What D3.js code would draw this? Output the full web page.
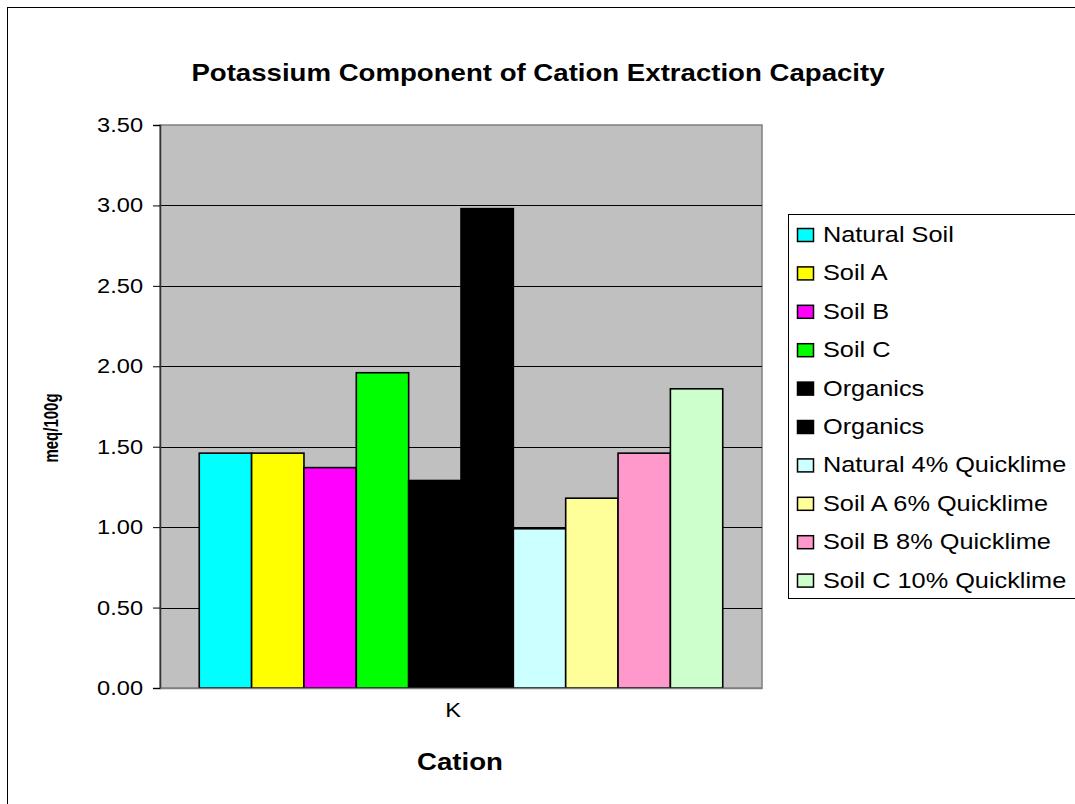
<!DOCTYPE html>
<html>
<head>
<meta charset="utf-8">
<script src="https://cdn.jsdelivr.net/npm/d3@7"></script>
<style>
  body { margin: 0; background: #fff; }
  text { font-family: "Liberation Sans", Arial, sans-serif; fill: #000; }
</style>
</head>
<body>
<div id="chart"></div>
<script>
const width = 1075;
const height = 804;

const categories = ["K"];
const seriesNames = [
  "Natural Soil", "Soil A", "Soil B", "Soil C", "Organics", "Organics",
  "Natural 4% Quicklime", "Soil A 6% Quicklime", "Soil B 8% Quicklime", "Soil C 10% Quicklime"
];
const seriesValues = [1.46, 1.46, 1.37, 1.96, 1.29, 2.98, 0.99, 1.18, 1.46, 1.86];
const seriesColors = [
  "#00FFFF", "#FFFF00", "#FF00FF", "#00FF00", "#000000", "#000000",
  "#CCFFFF", "#FFFF99", "#FF99CC", "#CCFFCC"
];
const yTicks = [0, 0.5, 1, 1.5, 2, 2.5, 3, 3.5];

// text in the picture is a bit wider than the plain font
const stretch = 1.15;

const plot = { left: 160, right: 762, top: 125, bottom: 688 };

const svg = d3.select("#chart").append("svg")
  .attr("width", width)
  .attr("height", height);

// outer chart border (runs off the right and bottom edges)
svg.append("rect")
  .attr("x", 7.5).attr("y", 7.5)
  .attr("width", width + 20).attr("height", height + 20)
  .attr("fill", "#fff").attr("stroke", "#000").attr("stroke-width", 1);

const y = d3.scaleLinear().domain([0, 3.5]).range([plot.bottom, plot.top]);
const x0 = d3.scaleBand().domain(categories).range([plot.left, plot.right]);
const x1 = d3.scaleBand()
  .domain(d3.range(seriesNames.length))
  .range([0, x0.bandwidth()])
  .paddingInner(0)
  .paddingOuter(0.75);

// plot area
svg.append("rect")
  .attr("x", plot.left).attr("y", plot.top)
  .attr("width", plot.right - plot.left).attr("height", plot.bottom - plot.top)
  .attr("fill", "#C0C0C0").attr("stroke", "#808080").attr("stroke-width", 1.5);

// gridlines
svg.append("g")
  .selectAll("line")
  .data(yTicks.filter(d => d > 0 && d < 3.5))
  .join("line")
  .attr("x1", plot.left).attr("x2", plot.right)
  .attr("y1", d => Math.round(y(d)) + 0.5).attr("y2", d => Math.round(y(d)) + 0.5)
  .attr("stroke", "#000").attr("stroke-width", 1);

// bars
const group = svg.append("g")
  .selectAll("g")
  .data(categories)
  .join("g")
  .attr("transform", d => `translate(${x0(d)},0)`);

group.selectAll("rect")
  .data(() => seriesValues.map((v, i) => ({ i, v })))
  .join("rect")
  .attr("x", d => x1(d.i))
  .attr("y", d => y(d.v))
  .attr("width", x1.bandwidth())
  .attr("height", d => y(0) - y(d.v))
  .attr("fill", d => seriesColors[d.i])
  .attr("stroke", "#000")
  .attr("stroke-width", 1.6);

// y axis
const yAxis = svg.append("g")
  .attr("transform", `translate(${plot.left},0)`)
  .call(d3.axisLeft(y).tickValues(yTicks).tickFormat(d3.format(".2f")).tickSize(7).tickPadding(10));
yAxis.select(".domain").attr("stroke", "#333").attr("stroke-width", 1.5);
yAxis.selectAll(".tick line").attr("stroke", "#000");
yAxis.selectAll(".tick text")
  .attr("class", "st")
  .style("font-size", "20.5px")
  .attr("fill", "#000");

// x axis
const xAxis = svg.append("g")
  .attr("transform", `translate(0,${plot.bottom})`)
  .call(d3.axisBottom(x0).tickSize(0).tickPadding(14));
xAxis.select(".domain").attr("stroke", "#808080").attr("stroke-width", 1.5);
xAxis.selectAll(".tick text")
  .attr("class", "st")
  .attr("dx", "-8")
  .style("font-size", "20.5px")
  .attr("fill", "#000");

// title
svg.append("text")
  .attr("class", "st")
  .attr("x", 538).attr("y", 81)
  .attr("text-anchor", "middle")
  .style("font-size", "24px").style("font-weight", "bold")
  .text("Potassium Component of Cation Extraction Capacity");

svg.append("text")
  .attr("class", "st")
  .attr("x", 460).attr("y", 770)
  .attr("text-anchor", "middle")
  .style("font-size", "24px").style("font-weight", "bold")
  .text("Cation");

svg.append("text")
  .attr("transform", "translate(58,428) scale(1.3,1) rotate(-90)")
  .attr("text-anchor", "middle")
  .style("font-size", "15px").style("font-weight", "bold")
  .text("meq/100g");

// legend
const legend = svg.append("g").attr("transform", "translate(788,214)");
legend.append("rect")
  .attr("x", 0.5).attr("y", 0.5)
  .attr("width", 320).attr("height", 384)
  .attr("fill", "#fff").attr("stroke", "#000").attr("stroke-width", 1);

const rowY = d3.scaleLinear().domain([0, 1]).range([21, 59.4]);
const rows = legend.selectAll("g.row")
  .data(seriesNames)
  .join("g")
  .attr("class", "row")
  .attr("transform", (d, i) => `translate(0,${rowY(i)})`);

rows.append("rect")
  .attr("x", 9.5).attr("y", -6.5)
  .attr("width", 16).attr("height", 13)
  .attr("fill", (d, i) => seriesColors[i])
  .attr("stroke", "#000").attr("stroke-width", 1.5);

rows.append("text")
  .attr("class", "st")
  .attr("x", 35).attr("y", 7)
  .style("font-size", "22px")
  .text(d => d);

// widen text to match the picture
svg.selectAll("text.st").each(function () {
  const len = this.getComputedTextLength();
  d3.select(this)
    .attr("textLength", len * stretch)
    .attr("lengthAdjust", "spacingAndGlyphs");
});
</script>
</body>
</html>
